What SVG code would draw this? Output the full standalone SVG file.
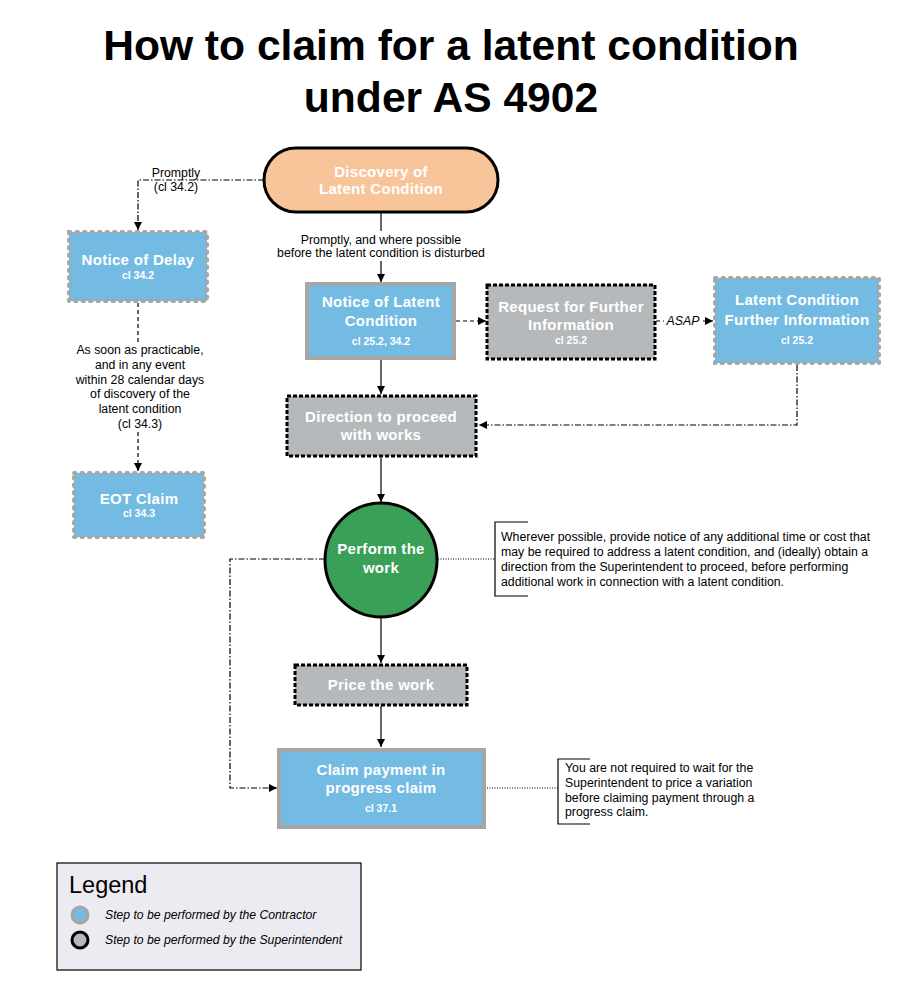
<svg xmlns="http://www.w3.org/2000/svg" width="900" height="1003" viewBox="0 0 900 1003">
<style>
text{font-family:"Liberation Sans",Arial,sans-serif}
.title{font-size:42.6px;font-weight:bold;fill:#000;text-anchor:middle}
.nl{font-size:15px;font-weight:bold;fill:#fff;text-anchor:middle;letter-spacing:0.3px}
.cl{font-size:10.5px;font-weight:bold;fill:#fff;text-anchor:middle}
.lbl{font-size:12.3px;fill:#000;text-anchor:middle}
.note{font-size:12.3px;fill:#000}
.leg{font-size:12.2px;font-style:italic;fill:#000}
.contr{fill:#74BBE4;stroke:#A6A6A6;stroke-width:4}
.contrdot{fill:#74BBE4;stroke:#A6A6A6;stroke-width:4;stroke-dasharray:1.5 6;stroke-linecap:round}
.sup{fill:#B5B9BB;stroke:#000;stroke-width:3;stroke-dasharray:4 2}
.solid{fill:none;stroke:#000;stroke-width:1.2}
.dash{fill:none;stroke:#000;stroke-width:1.2;stroke-dasharray:4 3}
.dashdot{fill:none;stroke:#000;stroke-width:1.2;stroke-dasharray:6 2 1.5 2}
.dot{fill:none;stroke:#000;stroke-width:1.2;stroke-dasharray:1 1.5}
.brk{fill:none;stroke:#000;stroke-width:1.2}
</style>
<defs>
<marker id="ah" viewBox="0 0 10 10" refX="10" refY="5" markerWidth="8" markerHeight="8" markerUnits="userSpaceOnUse" orient="auto">
<path d="M0,0 L10,5 L0,10 z" fill="#000"/>
</marker>
</defs>
<rect width="900" height="1003" fill="#fff"/>
<text class="title" x="451" y="60">How to claim for a latent condition</text>
<text class="title" x="451" y="112">under AS 4902</text>

<g id="connectors">
<path class="dashdot" d="M264,180 H138 V230" marker-end="url(#ah)"/>
<path class="dash" d="M138,303 V342"/>
<path class="dash" d="M138,432 V471" marker-end="url(#ah)"/>
<path class="solid" d="M381,213 V231"/>
<path class="solid" d="M381,261 V282" marker-end="url(#ah)"/>
<path class="dash" d="M456,321 H486" marker-end="url(#ah)"/>
<path class="dash" d="M656,321 H664"/>
<path class="dash" d="M703,321 H713" marker-end="url(#ah)"/>
<path class="solid" d="M381,360 V394" marker-end="url(#ah)"/>
<path class="dashdot" d="M797,365 V425 H479" marker-end="url(#ah)"/>
<path class="solid" d="M381,458 V502" marker-end="url(#ah)"/>
<path class="dot" d="M438,559 H495"/>
<path class="dashdot" d="M325,559 H230 V788 H277" marker-end="url(#ah)"/>
<path class="solid" d="M381,618 V663" marker-end="url(#ah)"/>
<path class="solid" d="M381,706 V747" marker-end="url(#ah)"/>
<path class="dot" d="M487,788 H558"/>
<text class="lbl" x="176" y="177">Promptly</text>
<text class="lbl" x="176" y="191">(cl 34.2)</text>
<text class="lbl" x="381" y="244">Promptly, and where possible</text>
<text class="lbl" x="381" y="257">before the latent condition is disturbed</text>
<text class="lbl" x="140" y="354">As soon as practicable,</text>
<text class="lbl" x="140" y="369">and in any event</text>
<text class="lbl" x="140" y="384">within 28 calendar days</text>
<text class="lbl" x="140" y="398">of discovery of the</text>
<text class="lbl" x="140" y="413">latent condition</text>
<text class="lbl" x="140" y="428">(cl 34.3)</text>
<text class="lbl" x="683" y="325" font-style="italic">ASAP</text>
</g>

<g id="discovery">
<rect x="264" y="148" width="234" height="64" rx="32" fill="#F8C59B" stroke="#000" stroke-width="3"/>
<text class="nl" x="381" y="177">Discovery of</text>
<text class="nl" x="381" y="194">Latent Condition</text>
</g>

<g id="notice-delay">
<rect class="contrdot" x="69" y="232" width="138" height="69"/>
<text class="nl" x="138" y="265">Notice of Delay</text>
<text class="cl" x="138" y="279">cl 34.2</text>
</g>

<g id="eot-claim">
<rect class="contrdot" x="74" y="473" width="130" height="64"/>
<text class="nl" x="139" y="504">EOT Claim</text>
<text class="cl" x="139" y="517">cl 34.3</text>
</g>

<g id="notice-latent">
<rect class="contr" x="307" y="284" width="147" height="74"/>
<text class="nl" x="381" y="307">Notice of Latent</text>
<text class="nl" x="381" y="326">Condition</text>
<text class="cl" x="381" y="345">cl 25.2, 34.2</text>
</g>

<g id="request-info">
<rect class="sup" x="487" y="285" width="168" height="74"/>
<text class="nl" x="571" y="312">Request for Further</text>
<text class="nl" x="571" y="330">Information</text>
<text class="cl" x="571" y="344">cl 25.2</text>
</g>

<g id="latent-info">
<rect class="contrdot" x="715" y="278" width="164" height="85"/>
<text class="nl" x="797" y="305">Latent Condition</text>
<text class="nl" x="797" y="325">Further Information</text>
<text class="cl" x="797" y="344">cl 25.2</text>
</g>

<g id="direction">
<rect class="sup" x="287" y="396" width="189" height="60"/>
<text class="nl" x="381" y="422">Direction to proceed</text>
<text class="nl" x="381" y="440">with works</text>
</g>

<g id="perform">
<ellipse cx="381" cy="560" rx="56" ry="57" fill="#3A9F57" stroke="#000" stroke-width="3"/>
<text class="nl" x="381" y="554">Perform the</text>
<text class="nl" x="381" y="573">work</text>
</g>

<g id="note-perform">
<path class="brk" d="M528,522 H495 V596 H528"/>
<text class="note" x="501" y="541">Wherever possible, provide notice of any additional time or cost that</text>
<text class="note" x="501" y="556">may be required to address a latent condition, and (ideally) obtain a</text>
<text class="note" x="501" y="571">direction from the Superintendent to proceed, before performing</text>
<text class="note" x="501" y="586">additional work in connection with a latent condition.</text>
</g>

<g id="price">
<rect class="sup" x="295" y="665" width="172" height="40"/>
<text class="nl" x="381" y="690">Price the work</text>
</g>

<g id="claim">
<rect class="contr" x="279" y="750" width="205" height="77"/>
<text class="nl" x="381" y="775">Claim payment in</text>
<text class="nl" x="381" y="793">progress claim</text>
<text class="cl" x="381" y="812">cl 37.1</text>
</g>

<g id="note-claim">
<path class="brk" d="M590,759 H558 V824 H590"/>
<text class="note" x="565" y="772">You are not required to wait for the</text>
<text class="note" x="565" y="787">Superintendent to price a variation</text>
<text class="note" x="565" y="802">before claiming payment through a</text>
<text class="note" x="565" y="816">progress claim.</text>
</g>

<g id="legend">
<rect x="57" y="863" width="304" height="107" fill="#EDEBF2" stroke="#000" stroke-width="1.2"/>
<text x="69" y="893" font-size="23.5" fill="#000">Legend</text>
<circle cx="80" cy="915" r="8" fill="#74BBE4" stroke="#A6A6A6" stroke-width="3"/>
<circle cx="80" cy="940" r="8" fill="#B5B9BB" stroke="#000" stroke-width="3"/>
<text class="leg" x="105" y="919">Step to be performed by the Contractor</text>
<text class="leg" x="105" y="944">Step to be performed by the Superintendent</text>
</g>
</svg>
